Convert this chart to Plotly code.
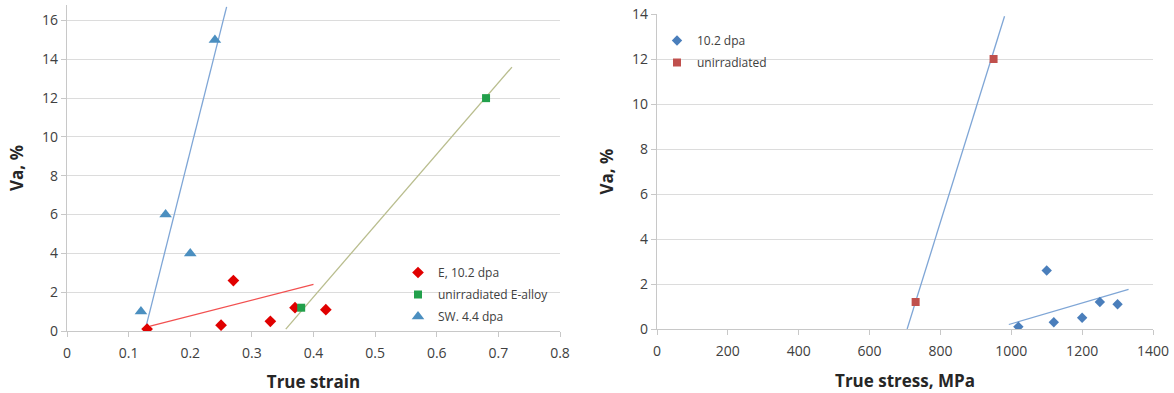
import plotly.graph_objects as go

# ---------------- Left chart data (True strain vs Va) ----------------
e102_strain = [0.13, 0.25, 0.27, 0.33, 0.37, 0.42]
e102_va = [0.1, 0.3, 2.6, 0.5, 1.2, 1.1]

unirr_e_strain = [0.38, 0.68]
unirr_e_va = [1.2, 12.0]

sw44_strain = [0.12, 0.16, 0.20, 0.24]
sw44_va = [1.0, 6.0, 4.0, 15.0]

# trendline end points (as drawn in the figure)
trend_sw_x = [0.128, 0.259]
trend_sw_y = [0.2, 16.7]
trend_e_x = [0.135, 0.40]
trend_e_y = [0.25, 2.4]
trend_ue_x = [0.355, 0.722]
trend_ue_y = [0.1, 13.6]

# ---------------- Right chart data (True stress vs Va) ----------------
d102_stress = [1020, 1100, 1120, 1200, 1250, 1300]
d102_va = [0.1, 2.6, 0.3, 0.5, 1.2, 1.1]

unirr_stress = [730, 950]
unirr_va = [1.2, 12.0]

trend_d_x = [993, 1331]
trend_d_y = [0.2, 1.76]
trend_u_x = [706, 981]
trend_u_y = [0.0, 13.9]

W, H = 1174, 393
def px_x(p):
    return p / W
def px_y(p):
    return (H - p) / H

fig = go.Figure()

# Left chart traces
fig.add_trace(go.Scatter(x=trend_sw_x, y=trend_sw_y, mode="lines",
                         line=dict(color="#7fa6d6", width=1.3), showlegend=False,
                         xaxis="x", yaxis="y", hoverinfo="skip"))
fig.add_trace(go.Scatter(x=trend_e_x, y=trend_e_y, mode="lines",
                         line=dict(color="#f25050", width=1.3), showlegend=False,
                         xaxis="x", yaxis="y", hoverinfo="skip"))
fig.add_trace(go.Scatter(x=trend_ue_x, y=trend_ue_y, mode="lines",
                         line=dict(color="#b9bd8e", width=1.3), showlegend=False,
                         xaxis="x", yaxis="y", hoverinfo="skip"))
fig.add_trace(go.Scatter(x=e102_strain, y=e102_va, mode="markers", name="E, 10.2 dpa",
                         marker=dict(symbol="diamond", size=9, color="#e00000"),
                         xaxis="x", yaxis="y", legend="legend", legendgroup="a"))
fig.add_trace(go.Scatter(x=unirr_e_strain, y=unirr_e_va, mode="markers", name="unirradiated E-alloy",
                         marker=dict(symbol="square", size=8, color="#22a04b"),
                         xaxis="x", yaxis="y", legend="legend", legendgroup="b"))
fig.add_trace(go.Scatter(x=sw44_strain, y=sw44_va, mode="markers", name="SW. 4.4 dpa",
                         marker=dict(symbol="triangle-up", size=11, color="#4b8fc0"),
                         xaxis="x", yaxis="y", legend="legend", legendgroup="c"))

# Right chart traces
fig.add_trace(go.Scatter(x=trend_d_x, y=trend_d_y, mode="lines",
                         line=dict(color="#7fa6d6", width=1.3), showlegend=False,
                         xaxis="x2", yaxis="y2", hoverinfo="skip"))
fig.add_trace(go.Scatter(x=trend_u_x, y=trend_u_y, mode="lines",
                         line=dict(color="#7fa6d6", width=1.3), showlegend=False,
                         xaxis="x2", yaxis="y2", hoverinfo="skip"))
fig.add_trace(go.Scatter(x=d102_stress, y=d102_va, mode="markers", name="10.2 dpa",
                         marker=dict(symbol="diamond", size=8, color="#4a7ebb"),
                         xaxis="x2", yaxis="y2", legend="legend2", legendgroup="d"))
fig.add_trace(go.Scatter(x=unirr_stress, y=unirr_va, mode="markers", name="unirradiated",
                         marker=dict(symbol="square", size=8, color="#c0504d"),
                         xaxis="x2", yaxis="y2", legend="legend2", legendgroup="e"))

tick_font = dict(family="Open Sans, Noto Sans, sans-serif", size=14, color="#404040")
title_font = dict(family="Open Sans, Noto Sans, sans-serif", size=17, color="#262626")

common_x = dict(showgrid=False, zeroline=False, showline=True, linecolor="#c8c8c8",
                linewidth=1.3, ticks="outside", ticklen=5, tickcolor="#c8c8c8",
                tickfont=tick_font, automargin=False, ticklabelstandoff=4)
common_y = dict(showgrid=True, gridcolor="#dcdcdc", gridwidth=1.3, zeroline=False,
                showline=True, linecolor="#c8c8c8", linewidth=1.3, ticks="outside",
                ticklen=5, tickcolor="#c8c8c8", tickfont=tick_font, automargin=False)

fig.update_layout(
    width=W, height=H,
    margin=dict(l=0, r=0, t=0, b=0, autoexpand=False),
    paper_bgcolor="white", plot_bgcolor="white",
    xaxis=dict(domain=[px_x(67), px_x(560)], range=[0, 0.8], dtick=0.1, anchor="y",
               title=dict(text="<b>True strain</b>", font=title_font, standoff=16),
               **common_x),
    yaxis=dict(domain=[px_y(331), px_y(5)], range=[0, 16.8], dtick=2, anchor="x",
               title=dict(text="<b>Va, %</b>", font=title_font, standoff=14),
               **common_y),
    xaxis2=dict(domain=[px_x(657), px_x(1153)], range=[0, 1400], dtick=200, anchor="y2",
                title=dict(text="<b>True stress, MPa</b>", font=title_font, standoff=16),
                **common_x),
    yaxis2=dict(domain=[px_y(329), px_y(14)], range=[0, 14], dtick=2, anchor="x2",
                title=dict(text="<b>Va, %</b>", font=title_font, standoff=14),
                **common_y),
    legend=dict(x=px_x(398), y=px_y(258), xanchor="left", yanchor="top",
                bgcolor="rgba(0,0,0,0)", tracegroupgap=3,
                font=dict(family="Open Sans, Noto Sans, sans-serif", size=12, color="#404040")),
    legend2=dict(x=px_x(657), y=px_y(26), xanchor="left", yanchor="top",
                 bgcolor="rgba(0,0,0,0)", tracegroupgap=3,
                 font=dict(family="Open Sans, Noto Sans, sans-serif", size=12, color="#404040")),
)

fig.write_html("out.html")
